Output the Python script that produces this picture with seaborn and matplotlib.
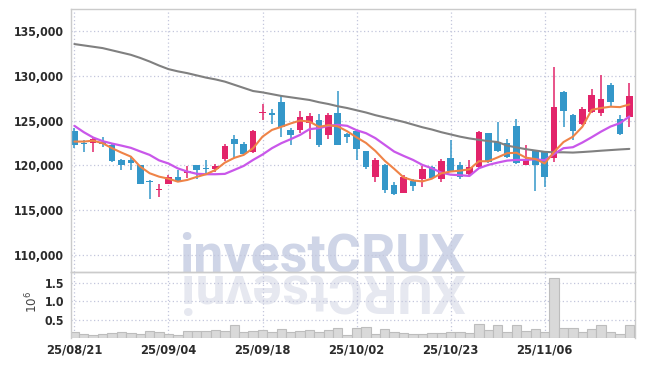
import numpy as np
import pandas as pd
import matplotlib.pyplot as plt
import seaborn as sns
from matplotlib.font_manager import fontManager

# trading days (yy/mm/dd)
dates = ("25/08/21 25/08/22 25/08/25 25/08/26 25/08/27 25/08/28 25/08/29 "
         "25/09/01 25/09/02 25/09/03 25/09/04 25/09/05 25/09/08 25/09/09 25/09/10 "
         "25/09/11 25/09/12 25/09/15 25/09/16 25/09/17 25/09/18 25/09/19 25/09/22 "
         "25/09/23 25/09/24 25/09/25 25/09/26 25/09/29 25/09/30 25/10/01 25/10/02 "
         "25/10/10 25/10/13 25/10/14 25/10/15 25/10/16 25/10/17 25/10/20 25/10/21 "
         "25/10/22 25/10/23 25/10/24 25/10/27 25/10/28 25/10/29 25/10/30 25/10/31 "
         "25/11/03 25/11/04 25/11/05 25/11/06 25/11/07 25/11/10 25/11/11 25/11/12 "
         "25/11/13 25/11/14 25/11/17 25/11/18 25/11/19").split()

opens = [123850, 122450, 122540, 122600, 122300, 120600, 120600, 120000, 118200, 117250,
         117950, 118670, 119110, 120040, 119700, 119630, 120680, 122950, 122390, 121530,
         125850, 125750, 127090, 123960, 123960, 124710, 125080, 123430, 125900, 123510,
         123880, 121580, 118730, 120080, 117770, 116940, 118220, 118510, 119790, 118510,
         120830, 120080, 119040, 119790, 123590, 122620, 122540, 124410, 120080, 121640,
         121580, 120860, 128210, 125640, 124600, 125940, 125830, 129030, 125160, 125380]
highs = [124150, 122840, 123140, 123200, 122400, 120700, 121000, 120050, 118400, 117900,
         118900, 119480, 119900, 120050, 120600, 120150, 122360, 123370, 122580, 123960,
         126900, 126280, 127910, 124180, 126050, 125830, 125750, 125900, 128290, 123600,
         123950, 121600, 120830, 120100, 118140, 118900, 118440, 119930, 119930, 120680,
         122840, 120380, 120600, 123800, 123600, 124850, 122990, 125220, 122310, 121700,
         121650, 130980, 128300, 125700, 126500, 128510, 130080, 129250, 125670, 129250]
lows = [121910, 121460, 121460, 122000, 120400, 119500, 119500, 117900, 116200, 116400,
        117950, 118100, 118620, 118440, 118890, 119260, 120460, 120830, 121200, 121420,
        125080, 124630, 123140, 122310, 123590, 122920, 122020, 122920, 122250, 122470,
        120600, 119630, 118140, 116880, 116700, 116900, 117170, 117550, 118500, 118140,
        119300, 118510, 118900, 119700, 120250, 121500, 120800, 120100, 120000, 117170,
        117620, 120410, 124330, 122840, 124500, 125800, 125500, 126640, 123370, 124260]
closes = [122310, 122350, 122920, 122350, 120500, 120000, 120300, 117950, 118100, 117350,
          118670, 118220, 119340, 119480, 119600, 119930, 122170, 122390, 121270, 123810,
          125950, 125650, 124260, 123370, 125380, 125530, 122310, 125670, 122310, 123210,
          121870, 119850, 120600, 117250, 116800, 118670, 117690, 119560, 118590, 120460,
          119410, 118670, 119790, 123740, 120380, 121640, 120900, 120230, 120600, 120080,
          118640, 126570, 126120, 123880, 126340, 127910, 127390, 127090, 123510, 127760]

# moving averages
ma_short = [122650, 122650, 122750, 122470, 121910, 121420, 120970, 119850, 119110, 118730,
            118500, 118170, 118360, 118700, 119000, 119480, 120300, 120830, 121160, 121910,
            123200, 123950, 124300, 124680, 125000, 124880, 124300, 124480, 124350, 123800,
            123120, 122500, 121600, 120500, 119600, 118650, 118300, 118200, 118500, 119100,
            119300, 119400, 119550, 120450, 120450, 120880, 121350, 121400, 120850, 120700,
            120200, 121500, 122600, 123200, 124300, 126200, 126400, 126550, 126500, 126800]
ma_mid = [124410, 123700, 123100, 122700, 122430, 122200, 121950, 121550, 121160, 120550,
          120200, 119650, 119300, 119050, 119000, 119000, 119040, 119480, 119930, 120600,
          121200, 121910, 122470, 122920, 123400, 124040, 124150, 124410, 124520, 124410,
          123920, 123590, 123030, 122280, 121530, 121050, 120600, 120040, 119670, 119180,
          118950, 118890, 118810, 119670, 120040, 120300, 120520, 120600, 120600, 120680,
          120550, 121270, 121910, 122020, 122540, 123140, 123770, 124330, 124710, 125450]
ma_long = [133550, 133400, 133250, 133100, 132850, 132600, 132350, 132000, 131600, 131150,
           130750, 130500, 130300, 130050, 129800, 129600, 129350, 129000, 128650, 128300,
           128150, 127950, 127750, 127600, 127450, 127300, 127050, 126850, 126600, 126400,
           126150, 125900, 125600, 125350, 125100, 124850, 124550, 124250, 124000, 123700,
           123450, 123200, 123000, 122850, 122700, 122600, 122200, 122000, 121800, 121650,
           121500, 121450, 121450, 121420, 121480, 121550, 121630, 121700, 121770, 121830]

# volume, millions of shares
volume = [0.16, 0.10, 0.09, 0.10, 0.14, 0.17, 0.14, 0.10, 0.20, 0.17,
          0.10, 0.07, 0.20, 0.20, 0.18, 0.23, 0.19, 0.34, 0.15, 0.19,
          0.23, 0.17, 0.25, 0.15, 0.19, 0.21, 0.15, 0.23, 0.28, 0.09,
          0.28, 0.31, 0.10, 0.25, 0.17, 0.13, 0.10, 0.10, 0.14, 0.14,
          0.17, 0.17, 0.14, 0.39, 0.23, 0.34, 0.17, 0.34, 0.20, 0.25,
          0.17, 1.62, 0.28, 0.28, 0.17, 0.25, 0.34, 0.17, 0.12, 0.34]

price_ticks = [110000, 115000, 120000, 125000, 130000, 135000]
vol_ticks = [0.5, 1.0, 1.5]
watermark = "investCRUX"

df = pd.DataFrame({"date": dates, "open": opens, "high": highs, "low": lows,
                   "close": closes, "ma_short": ma_short, "ma_mid": ma_mid,
                   "ma_long": ma_long, "volume": volume})
df["i"] = np.arange(len(df))

RED, BLUE = "#e2246a", "#3497c9"
GRID = "#c3c6dc"
SPINE = "#cbcbcb"

sns.set_style("white")
# a condensed face for the tick labels if one is installed, otherwise Lato
has_cond = any(f.name == "DejaVu Sans" and f.stretch == "condensed" for f in fontManager.ttflist)
if has_cond:
    plt.rcParams["font.family"] = ["DejaVu Sans"]
    plt.rcParams["font.stretch"] = "condensed"
    fs_y, fs_x = 8.8, 9.2
else:
    plt.rcParams["font.family"] = ["Lato", "DejaVu Sans"]
    fs_y, fs_x = 9.0, 9.2

W, H = 645, 366
fig = plt.figure(figsize=(W / 100, H / 100), dpi=100)
fig.patch.set_facecolor("white")
ax = fig.add_axes([71 / W, 1 - 272 / H, (635 - 71) / W, (272 - 9) / H])
axv = fig.add_axes([71 / W, 1 - 338 / H, (635 - 71) / W, (338 - 272) / H])

# watermark and its faint reflection, behind the axes
wm = fig.text(179 / W, 1 - 272 / H, watermark, family="Roboto", weight="bold",
              fontsize=40, color="#cfd5e7", ha="left", va="baseline", zorder=-5)
renderer = fig.canvas.get_renderer()
wm.set_fontsize(40 * 286 / wm.get_window_extent(renderer).width)
fig.text(465 / W, 1 - 275 / H, watermark[::-1], family="Roboto", weight="bold",
         fontsize=wm.get_fontsize(), color="#e6e8f0", ha="left", va="baseline",
         rotation=180, rotation_mode="anchor", zorder=-5)

# candles
up = df["close"] >= df["open"]
col = np.where(up, RED, BLUE)
ax.vlines(df["i"], df["low"], df["high"], colors=col, lw=1.1, zorder=2)
body = np.maximum((df["close"] - df["open"]).abs(), 140)
ax.bar(df["i"], body, bottom=np.minimum(df["open"], df["close"]), width=0.7,
       color=col, linewidth=0, zorder=2)

# moving averages
sns.lineplot(data=df, x="i", y="ma_long", ax=ax, color="#808080", lw=1.5, zorder=3)
sns.lineplot(data=df, x="i", y="ma_mid", ax=ax, color="#c957ea", lw=1.6, zorder=3)
sns.lineplot(data=df, x="i", y="ma_short", ax=ax, color="#ef8347", lw=1.5, zorder=4)

# volume
sns.barplot(data=df, x="i", y="volume", ax=axv, color="#d9d9d9", edgecolor="#bdbdbd",
            linewidth=0.8, width=1.0, saturation=1, zorder=2)

xticks = list(range(0, len(df), 10))
for a in (ax, axv):
    a.set_facecolor("none")
    a.set_xlim(-0.36, 59.6)
    a.set_xticks(xticks)
    a.set_xlabel("")
    a.set_ylabel("")
    a.grid(True, color=GRID, ls=(0, (1, 2)), lw=0.9, zorder=0)
    a.set_axisbelow(True)
    a.tick_params(length=0, labelcolor="#2b2b2b", pad=5)
    for s in a.spines.values():
        s.set_color(SPINE)
        s.set_linewidth(1)

ax.set_ylim(108070, 137470)
ax.set_yticks(price_ticks)
ax.set_yticklabels([f"{v:,}" for v in price_ticks], fontweight="bold", fontsize=fs_y)
ax.set_xticklabels([])

axv.set_ylim(0, 1.79)
axv.set_yticks(vol_ticks)
axv.set_yticklabels([f"{v:.1f}" for v in vol_ticks], fontweight="bold", fontsize=fs_y)
axv.set_xticklabels([df["date"][k] for k in xticks], fontweight="bold", fontsize=fs_x)
axv.spines["bottom"].set_visible(False)
axv.tick_params(axis="x", pad=4)

fig.text(32 / W, 1 - 302 / H, r"$10^6$", rotation=90, ha="center", va="center",
         fontsize=9.5, color="#444444")

fig.savefig("out.png", dpi=100)
